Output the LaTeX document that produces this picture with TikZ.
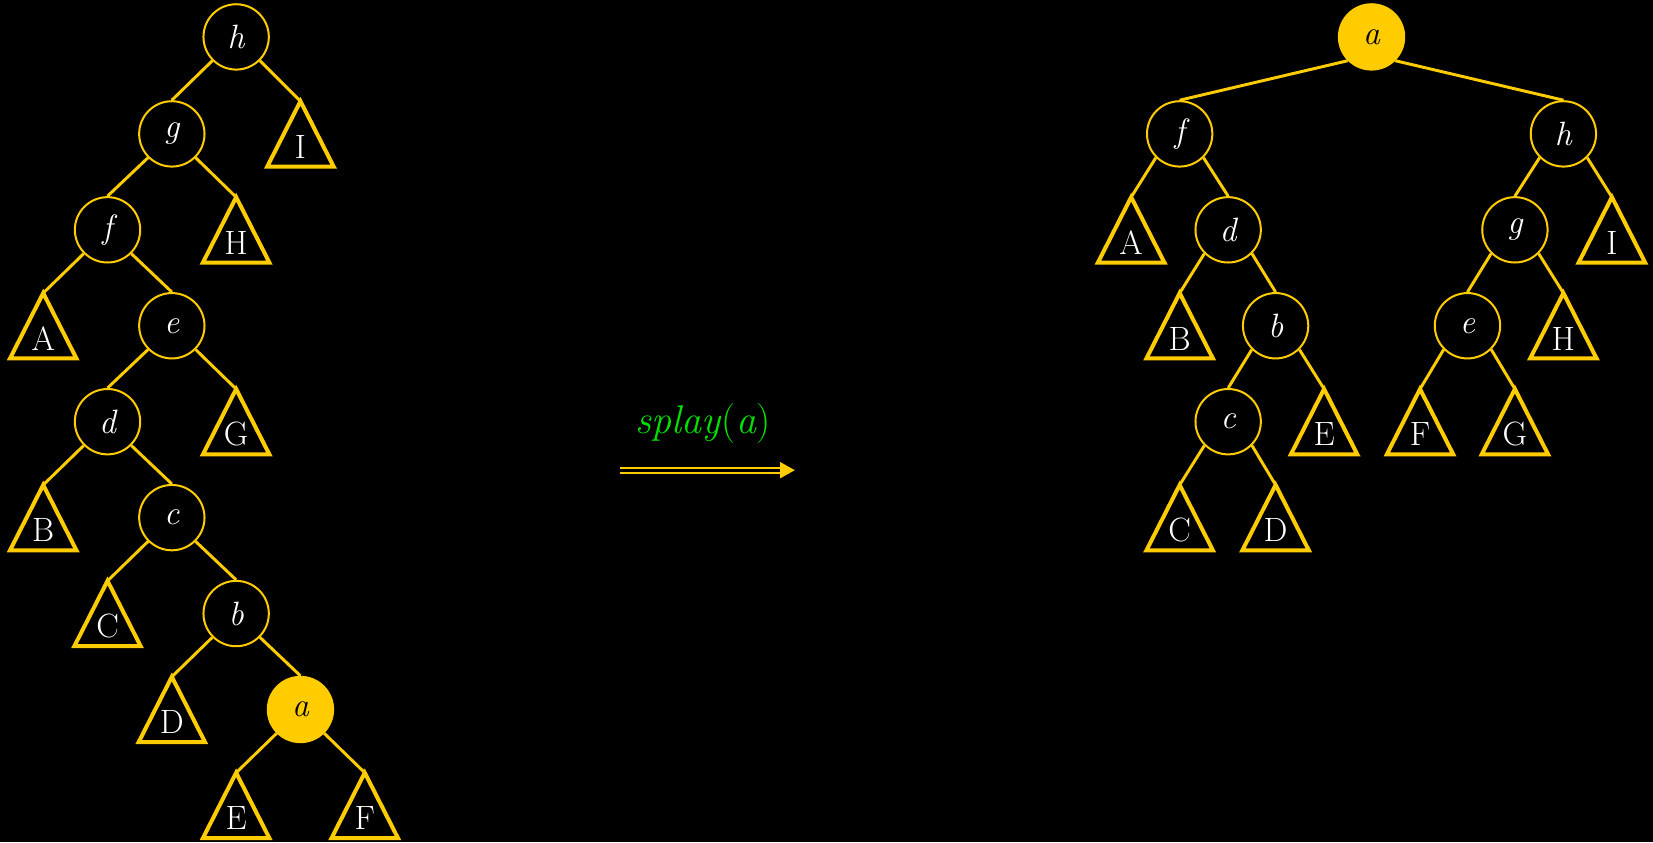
\documentclass[tikz,border=0pt]{standalone}
\usepackage{xcolor}
\usepackage{tikz}
\usetikzlibrary{arrows.meta, calc}
\definecolor{splaygold}{HTML}{FFCC00}
\definecolor{splaygreen}{HTML}{00E000}

\tikzset{
  key/.style={circle, draw=splaygold, line width=0.95pt, minimum size=31pt,
              inner sep=0pt, text=white, font=\fontsize{16}{18}\selectfont\itshape},
  splayed/.style={key, fill=splaygold, text=black},
  link/.style={draw=splaygold, line width=1.4pt},
  subtri/.style={draw=splaygold, line width=1.9pt},
  sublabel/.style={text=white, anchor=base, inner sep=0pt, font=\fontsize{16}{18}\selectfont},
  splayarrow/.style={draw=splaygold, double=black, double distance=1.3pt, line width=1pt,
                     -{Triangle[length=7pt, width=7.5pt]}},
}

% subtree triangle: name, x, y (centre), label
\newcommand{\subtree}[4]{%
  \coordinate (#1) at (#2,#3-31);
  \draw[subtri] (#1) -- ++(-31.5,62) -- ++(63,0) -- cycle;
  \node[sublabel] (#1-lbl) at (#2,#3+23) {#4};
}

\begin{document}
\begin{tikzpicture}[x=0.5pt, y=-0.5pt]
  \fill[black] (0,0) rectangle (1568,799);
  \useasboundingbox (0,0) rectangle (1568,799);

  % before: the long left path
  \node[key] (lh) at (224,35) {h};
  \node[key] (lg) at (163,127) {g};
  \node[key] (lf) at (102,218) {f};
  \node[key] (le) at (163,309) {e};
  \node[key] (ld) at (102,400) {d};
  \node[key] (lc) at (163,491) {c};
  \node[key] (lb) at (224,582) {b};
  \node[splayed] (la) at (285,673) {a};
  \subtree{lI}{285}{127}{I}
  \subtree{lH}{224}{218}{H}
  \subtree{lA}{41}{309}{A}
  \subtree{lG}{224}{400}{G}
  \subtree{lB}{41}{491}{B}
  \subtree{lC}{102}{582}{C}
  \subtree{lD}{163}{673}{D}
  \subtree{lE}{224}{764}{E}
  \subtree{lF}{346}{764}{F}
  \draw[link] (lh.south west) -- (lg.north);
  \draw[link] (lh.south east) -- (lI);
  \draw[link] (lg.south west) -- (lf.north);
  \draw[link] (lg.south east) -- (lH);
  \draw[link] (lf.south west) -- (lA);
  \draw[link] (lf.south east) -- (le.north);
  \draw[link] (le.south west) -- (ld.north);
  \draw[link] (le.south east) -- (lG);
  \draw[link] (ld.south west) -- (lB);
  \draw[link] (ld.south east) -- (lc.north);
  \draw[link] (lc.south west) -- (lC);
  \draw[link] (lc.south east) -- (lb.north);
  \draw[link] (lb.south west) -- (lD);
  \draw[link] (lb.south east) -- (la.north);
  \draw[link] (la.south west) -- (lE);
  \draw[link] (la.south east) -- (lF);

  % the operation
  \coordinate (arrS) at (588,446);
  \coordinate (arrE) at (754,446);
  \draw[splayarrow] (arrS) -- (arrE);
  \node[text=splaygreen, font=\fontsize{19}{22}\selectfont] (op) at (667,402) {\textit{splay}(\textit{a})};

  % after
  \node[splayed] (ra) at (1301,35) {a};
  \node[key] (rf) at (1119,127) {f};
  \node[key] (rh) at (1483,127) {h};
  \node[key] (rd) at (1165,218) {d};
  \node[key] (rb) at (1210,309) {b};
  \node[key] (rc) at (1165,400) {c};
  \node[key] (rg) at (1437,218) {g};
  \node[key] (re) at (1392,309) {e};
  \subtree{rA}{1073}{218}{A}
  \subtree{rB}{1119}{309}{B}
  \subtree{rE}{1256}{400}{E}
  \subtree{rC}{1119}{491}{C}
  \subtree{rD}{1210}{491}{D}
  \subtree{rI}{1529}{218}{I}
  \subtree{rH}{1483}{309}{H}
  \subtree{rF}{1347}{400}{F}
  \subtree{rG}{1437}{400}{G}
  \draw[link] (ra.south west) -- (rf.north);
  \draw[link] (ra.south east) -- (rh.north);
  \draw[link] (rf.south west) -- (rA);
  \draw[link] (rf.south east) -- (rd.north);
  \draw[link] (rd.south west) -- (rB);
  \draw[link] (rd.south east) -- (rb.north);
  \draw[link] (rb.south west) -- (rc.north);
  \draw[link] (rb.south east) -- (rE);
  \draw[link] (rc.south west) -- (rC);
  \draw[link] (rc.south east) -- (rD);
  \draw[link] (rh.south west) -- (rg.north);
  \draw[link] (rh.south east) -- (rI);
  \draw[link] (rg.south west) -- (re.north);
  \draw[link] (rg.south east) -- (rH);
  \draw[link] (re.south west) -- (rF);
  \draw[link] (re.south east) -- (rG);
\end{tikzpicture}
\end{document}
